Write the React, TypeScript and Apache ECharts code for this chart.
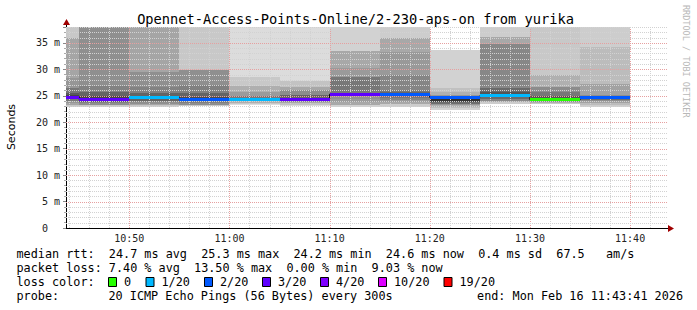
import React, { useEffect, useRef } from "react";
import * as echarts from "echarts";

// time axis in minutes after 10:00 (10:43:41 .. 11:43:41)
const X_MIN = 43.683;
const X_MAX = 103.683;
const Y_MAX = 38;

const segStart = [43.683, 45, 50, 55, 60, 65, 70, 75, 80, 85, 90, 95];
const segEnd = [45, 50, 55, 60, 65, 70, 75, 80, 85, 90, 95, 100];
const medianRtt = [24.7, 24.3, 24.6, 24.3, 24.3, 24.2, 25.3, 25.2, 24.7, 25.0, 24.2, 24.6];
const lossBucket = [3, 3, 1, 2, 1, 3, 3, 2, 2, 1, 0, 2];

// smoke bands per interval: [low ms, high ms, grey level]
const smokeA = [[22.9, 40, 200], [23.3, 36.0, 165], [23.7, 28.4, 150], [24.0, 26.5, 120], [24.3, 25.6, 90], [24.5, 25.1, 70]];
const smokeB = [[22.8, 40, 200], [23.2, 40, 143], [23.6, 26.8, 130], [23.9, 25.7, 100], [24.1, 24.9, 70]];
const smokeC = [[22.9, 40, 200], [23.2, 40, 165], [23.5, 29.5, 143], [23.8, 26.7, 130], [24.1, 25.6, 100], [24.3, 25.0, 75]];
const smokeD = [[23.0, 40, 200], [23.3, 29.9, 143], [23.6, 27.1, 128], [24.0, 25.6, 100], [24.2, 24.8, 75]];
const smokeE = [[23.2, 40, 220], [23.4, 28.6, 200], [23.7, 26.9, 175], [24.0, 25.8, 155], [24.2, 25.0, 120]];
const smokeF = [[23.0, 40, 220], [23.3, 27.8, 195], [23.6, 26.7, 168], [23.9, 26.1, 140], [24.1, 25.2, 100], [24.2, 24.6, 60]];
const smokeG = [[22.9, 40, 210], [23.3, 33.5, 168], [23.8, 30.3, 154], [24.3, 28.6, 145], [25.3, 28.6, 119]];
const smokeH = [[22.9, 40, 205], [23.4, 36.0, 168], [23.8, 33.3, 153], [24.2, 29.0, 133], [24.5, 26.1, 119], [25.0, 25.8, 102]];
const smokeI = [[22.3, 33.7, 210], [22.6, 26.5, 192], [22.9, 25.8, 176], [23.2, 25.2, 150], [23.5, 24.8, 110], [23.8, 24.7, 70], [24.1, 24.7, 50]];
const smokeJ = [[23.5, 40, 205], [23.8, 36.2, 168], [24.1, 34.7, 135], [24.4, 26.5, 106], [24.8, 25.8, 85]];
const smokeK = [[23.4, 40, 200], [23.7, 29.0, 176], [23.9, 26.7, 140], [24.0, 25.8, 119], [24.1, 25.0, 85]];
const smokeL = [[22.9, 40, 205], [23.3, 34.3, 188], [23.6, 27.3, 162], [24.0, 25.2, 142], [24.2, 24.9, 110]];
const smoke = [smokeA, smokeB, smokeC, smokeD, smokeE, smokeF, smokeG, smokeH, smokeI, smokeJ, smokeK, smokeL];

const xTickValues = [50, 60, 70, 80, 90, 100];
const xTickLabels = ["10:50", "11:00", "11:10", "11:20", "11:30", "11:40"];

const lossLabels = ["0", "1/20", "2/20", "3/20", "4/20", "10/20", "19/20"];
const lossColors = ["#26ff00", "#00b8ff", "#0059ff", "#5e00ff", "#7e00ff", "#dd00ff", "#ff0000"];

const rttStats = ["24.7", "25.3", "24.2", "24.6", "0.4", "67.5"]; // avg max min now sd am/s
const lossStats = ["7.40", "13.50", "0.00", "9.03"]; // avg max min now

const TITLE = "Opennet-Access-Points-Online/2-230-aps-on from yurika";
const PROBE = "20 ICMP Echo Pings (56 Bytes) every 300s";
const END_TEXT = "end: Mon Feb 16 11:43:41 2026";

const MONO = '"DejaVu Sans Mono", monospace';

export default function App() {
  const ref = useRef<HTMLDivElement>(null);

  useEffect(() => {
    document.body.style.margin = "0";
    const chart = echarts.init(ref.current!, null, { renderer: "svg" });

    const smokeData: number[][] = [];
    smoke.forEach((bands, i) => {
      bands.forEach((b) => smokeData.push([segStart[i], segEnd[i], b[0], b[1], b[2]]));
    });
    const medianData = medianRtt.map((m, i) => [segStart[i], segEnd[i], m, lossBucket[i]]);
    const stepData = medianRtt.map((m, i) => [segStart[i], m]);
    stepData.push([segEnd[segEnd.length - 1], medianRtt[medianRtt.length - 1]]);

    // grid lines: [value, orientation (0 vertical, 1 horizontal), major]
    const gridData: number[][] = [];
    for (let m = 44; m < X_MAX; m += 2) gridData.push([m, 0, m % 10 === 0 ? 1 : 0]);
    for (let v = 1; v <= Y_MAX; v += 1) gridData.push([v, 1, v % 5 === 0 ? 1 : 0]);

    const lineY = [254, 268, 282, 296];
    const LX = 16.5;
    const legendFont = { fontFamily: MONO, fontSize: 11.8, fill: "#000" };
    const boxX = [108.5, 146, 204.5, 262.5, 320.5, 378.5, 444];

    const graphics: any[] = [
      {
        type: "text", x: 355.5, y: 19,
        style: { text: TITLE, fontFamily: MONO, fontSize: 13.7, fill: "#000", align: "center", verticalAlign: "middle", textAlign: "center", textVerticalAlign: "middle" },
      },
      {
        type: "text", x: 11, y: 127, rotation: Math.PI / 2,
        style: { text: "Seconds", fontFamily: '"DejaVu Sans", sans-serif', fontSize: 11, fill: "#000", align: "center", verticalAlign: "middle", textAlign: "center", textVerticalAlign: "middle" },
      },
      {
        type: "text", x: 686, y: 5, rotation: -Math.PI / 2,
        style: { text: "RRDTOOL / TOBI OETIKER", fontFamily: MONO, fontSize: 8.5, fill: "#b8b8b8", align: "left", verticalAlign: "middle", textAlign: "left", textVerticalAlign: "middle" },
      },
      {
        type: "text", x: LX, y: lineY[0],
        style: { ...legendFont, text: `median rtt:  ${rttStats[0]} ms avg  ${rttStats[1]} ms max  ${rttStats[2]} ms min  ${rttStats[3]} ms now  ${rttStats[4]} ms sd  ${rttStats[5]}   am/s`, verticalAlign: "middle", textVerticalAlign: "middle" },
      },
      {
        type: "text", x: LX, y: lineY[1],
        style: { ...legendFont, text: `packet loss: ${lossStats[0]} % avg  ${lossStats[1]} % max  ${lossStats[2]} % min  ${lossStats[3]} % now`, verticalAlign: "middle", textVerticalAlign: "middle" },
      },
      {
        type: "text", x: LX, y: lineY[2],
        style: { ...legendFont, text: "loss color:", verticalAlign: "middle", textVerticalAlign: "middle" },
      },
      {
        type: "text", x: LX, y: lineY[3],
        style: { ...legendFont, text: "probe:", verticalAlign: "middle", textVerticalAlign: "middle" },
      },
      {
        type: "text", x: 108.5, y: lineY[3],
        style: { ...legendFont, text: PROBE, verticalAlign: "middle", textVerticalAlign: "middle" },
      },
      {
        type: "text", x: 683, y: lineY[3],
        style: { ...legendFont, text: END_TEXT, align: "right", textAlign: "right", verticalAlign: "middle", textVerticalAlign: "middle" },
      },
      // axis arrows
      { type: "line", shape: { x1: 66.5, y1: 27, x2: 66.5, y2: 23 }, style: { stroke: "#000", lineWidth: 1 } },
      { type: "polygon", shape: { points: [[63, 25], [66.5, 19], [70, 25]] }, style: { fill: "#a00000" } },
      { type: "line", shape: { x1: 667, y1: 228.5, x2: 669, y2: 228.5 }, style: { stroke: "#000", lineWidth: 1 } },
      { type: "polygon", shape: { points: [[668, 225], [674, 228.5], [668, 232]] }, style: { fill: "#a00000" } },
    ];
    lossLabels.forEach((lab, i) => {
      graphics.push({
        type: "rect", shape: { x: boxX[i], y: 277.5, width: 8, height: 9 },
        style: { fill: lossColors[i], stroke: "#000", lineWidth: 1 },
      });
      graphics.push({
        type: "text", x: boxX[i] + 15.5, y: lineY[2],
        style: { ...legendFont, text: lab, verticalAlign: "middle", textVerticalAlign: "middle" },
      });
    });

    chart.setOption({
      animation: false,
      backgroundColor: "#ffffff",
      grid: { left: 66, right: 30, top: 27, bottom: 82, containLabel: false, outerBoundsMode: "none" },
      xAxis: {
        type: "value", min: X_MIN, max: X_MAX,
        axisLine: { show: true, lineStyle: { color: "#000", width: 1 } },
        axisTick: { show: false },
        splitLine: { show: false },
        axisLabel: {
          customValues: xTickValues,
          formatter: (v: number) => {
            const k = xTickValues.findIndex((t) => Math.abs(t - v) < 1e-6);
            return k >= 0 ? xTickLabels[k] : "";
          },
          fontFamily: MONO, fontSize: 10, color: "#222", margin: 5,
        },
      },
      yAxis: {
        type: "value", min: 0, max: Y_MAX, interval: 5,
        axisLine: { show: true, lineStyle: { color: "#000", width: 1 } },
        axisTick: { show: true, length: 3, lineStyle: { color: "#888" } },
        minorTick: { show: true, splitNumber: 5, length: 2, lineStyle: { color: "#aaa" } },
        splitLine: { show: false },
        axisLabel: {
          showMaxLabel: false,
          formatter: (v: number) => (v === 0 ? "0\u00a0\u00a0" : `${v} m`),
          fontFamily: MONO, fontSize: 10, color: "#222", margin: 6,
        },
      },
      graphic: graphics,
      series: [
        {
          type: "custom", name: "smoke", z: 1, silent: true,
          data: smokeData,
          encode: { x: [0, 1], y: [2, 3] },
          renderItem: (_p: any, api: any) => {
            const hi = Math.min(api.value(3), Y_MAX);
            const p0 = api.coord([api.value(0), hi]);
            const p1 = api.coord([api.value(1), api.value(2)]);
            const xa = Math.round(p0[0]), xb = Math.round(p1[0]);
            const ya = Math.round(p0[1]), yb = Math.round(p1[1]);
            const g = api.value(4);
            return {
              type: "rect",
              shape: { x: xa, y: ya, width: xb - xa, height: yb - ya },
              style: { fill: `rgb(${g},${g},${g})` },
            };
          },
        },
        {
          type: "custom", name: "grid", z: 2, silent: true,
          data: gridData,
          renderItem: (_p: any, api: any) => {
            const v = api.value(0), horiz = api.value(1) === 1, major = api.value(2) === 1;
            let a, b;
            if (horiz) { a = api.coord([X_MIN, v]); b = api.coord([X_MAX, v]); }
            else { a = api.coord([v, 0]); b = api.coord([v, Y_MAX]); }
            const x1 = horiz ? a[0] : Math.round(a[0]) + 0.5;
            const x2 = horiz ? b[0] + 1 : Math.round(b[0]) + 0.5;
            const y1 = horiz ? Math.round(a[1]) + 0.5 : a[1];
            const y2 = horiz ? Math.round(b[1]) + 0.5 : b[1];
            return {
              type: "line",
              shape: { x1, y1, x2, y2 },
              style: { stroke: major ? "#e6a0a0" : "#d2d2d2", lineWidth: 1, lineDash: [1, 1] },
            };
          },
        },
        {
          type: "line", name: "median step", z: 3, silent: true,
          step: "end", showSymbol: false, data: stepData,
          lineStyle: { color: "#000", width: 1 },
        },
        {
          type: "custom", name: "median", z: 4, silent: true,
          data: medianData,
          encode: { x: [0, 1], y: 2 },
          renderItem: (_p: any, api: any) => {
            const p0 = api.coord([api.value(0), api.value(2)]);
            const p1 = api.coord([api.value(1), api.value(2)]);
            const xa = Math.round(p0[0]), xb = Math.round(p1[0]);
            const y = Math.round(p0[1] - 1.5);
            return {
              type: "rect",
              shape: { x: xa, y, width: xb - xa, height: 3 },
              style: { fill: lossColors[api.value(3)] },
            };
          },
        },
      ],
    });

    return () => chart.dispose();
  }, []);

  return (
    <div
      ref={ref}
      style={{ position: "fixed", left: 0, top: 0, width: 697, height: 310, background: "#fff" }}
    />
  );
}
